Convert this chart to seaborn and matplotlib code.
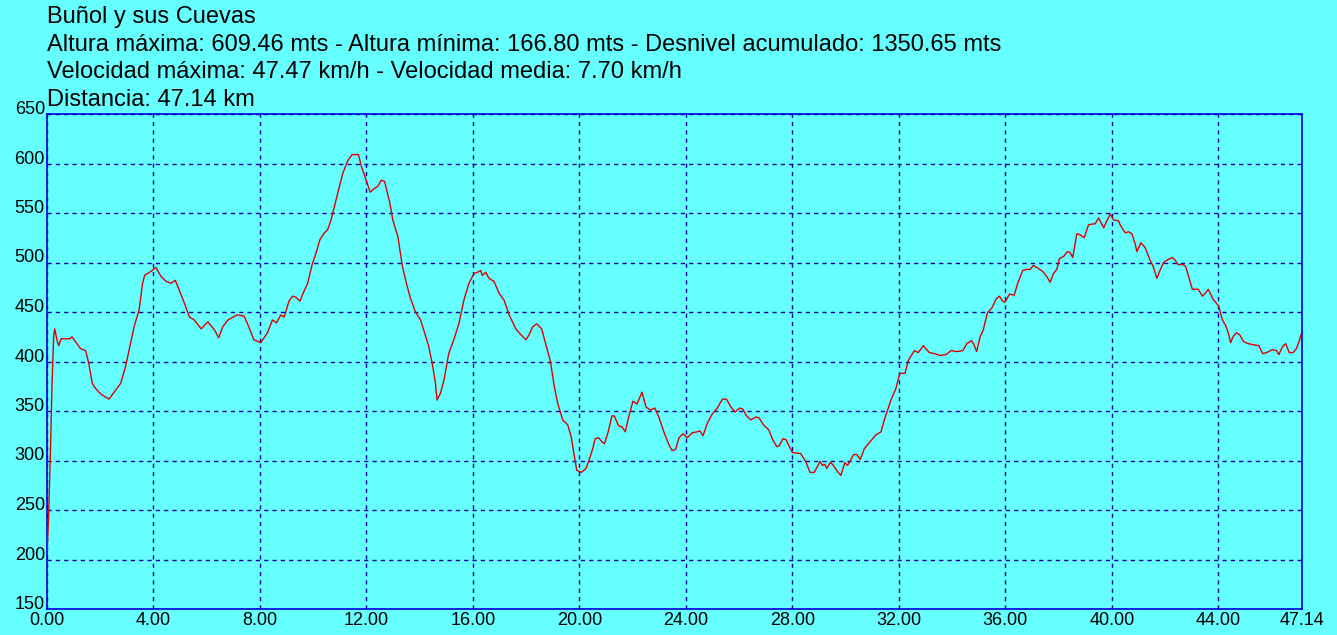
import matplotlib
matplotlib.use('Agg')
import matplotlib.pyplot as plt
import seaborn as sns

# elevation profile (distance in km, altitude in m)
km = [0.00, 0.06, 0.13, 0.19, 0.25, 0.29, 0.38, 0.44, 0.53, 0.69, 0.86, 0.94, 1.07, 1.26, 1.45,
      1.57, 1.70, 1.82, 1.95, 2.08, 2.33, 2.52, 2.77, 2.96, 3.08, 3.27, 3.46, 3.59, 3.67, 3.90,
      4.09, 4.28, 4.47, 4.65, 4.82, 4.97, 5.16, 5.35, 5.53, 5.79, 6.04, 6.29, 6.45, 6.60, 6.80,
      7.14, 7.40, 7.58, 7.77, 8.03, 8.28, 8.47, 8.62, 8.78, 8.91, 9.09, 9.22, 9.35, 9.50, 9.62,
      9.79, 9.97, 10.10, 10.25, 10.42, 10.54, 10.67, 10.79, 10.92, 11.11, 11.30, 11.46, 11.70,
      11.80, 11.99, 12.14, 12.26, 12.43, 12.55, 12.68, 12.87, 12.99, 13.18, 13.35, 13.50, 13.65,
      13.84, 14.03, 14.15, 14.34, 14.47, 14.59, 14.65, 14.78, 14.91, 15.09, 15.28, 15.47, 15.66,
      15.85, 16.04, 16.16, 16.29, 16.35, 16.48, 16.60, 16.79, 16.98, 17.17, 17.36, 17.61, 17.80,
      17.99, 18.11, 18.24, 18.40, 18.58, 18.74, 18.91, 19.06, 19.18, 19.37, 19.56, 19.69, 19.81,
      19.90, 20.07, 20.25, 20.38, 20.50, 20.59, 20.72, 20.84, 20.94, 21.07, 21.22, 21.31, 21.47,
      21.60, 21.72, 21.85, 22.01, 22.16, 22.35, 22.50, 22.67, 22.83, 22.98, 23.17, 23.36, 23.48,
      23.61, 23.74, 23.89, 24.05, 24.24, 24.43, 24.52, 24.64, 24.81, 24.99, 25.18, 25.37, 25.52,
      25.69, 25.84, 26.03, 26.13, 26.28, 26.44, 26.63, 26.75, 26.91, 27.11, 27.26, 27.41, 27.51,
      27.64, 27.76, 28.00, 28.31, 28.50, 28.66, 28.82, 29.04, 29.13, 29.22, 29.29, 29.42, 29.51,
      29.69, 29.82, 29.97, 30.07, 30.30, 30.42, 30.55, 30.70, 30.89, 31.14, 31.33, 31.45, 31.55,
      31.70, 31.89, 32.03, 32.23, 32.35, 32.58, 32.73, 32.92, 33.14, 33.33, 33.55, 33.77, 33.96,
      34.19, 34.40, 34.55, 34.73, 34.82, 34.92, 35.05, 35.17, 35.32, 35.49, 35.65, 35.77, 35.90,
      35.99, 36.15, 36.33, 36.45, 36.65, 36.80, 36.93, 37.05, 37.24, 37.40, 37.55, 37.68, 37.81,
      37.93, 38.03, 38.18, 38.33, 38.43, 38.53, 38.68, 38.81, 38.96, 39.12, 39.29, 39.37, 39.50,
      39.69, 39.81, 39.94, 40.06, 40.25, 40.31, 40.50, 40.63, 40.75, 40.88, 40.94, 41.09, 41.25,
      41.42, 41.55, 41.69, 41.79, 41.94, 42.11, 42.26, 42.36, 42.48, 42.67, 42.77, 42.90, 43.02,
      43.24, 43.40, 43.51, 43.62, 43.80, 44.01, 44.15, 44.28, 44.39, 44.46, 44.55, 44.68, 44.80,
      44.95, 45.12, 45.30, 45.52, 45.66, 45.81, 46.03, 46.18, 46.27, 46.41, 46.53, 46.66, 46.81,
      46.93, 47.03, 47.10]
elev = [205, 243, 310, 378, 425, 433, 421, 416, 423, 423, 423, 425, 420, 413, 411,
        398, 378, 373, 369, 366, 362, 369, 378, 396, 411, 435, 452, 479, 487, 491,
        495, 486, 481, 479, 482, 472, 459, 445, 442, 433, 440, 432, 424, 435, 442,
        447, 446, 435, 422, 419, 429, 442, 439, 447, 445, 461, 466, 465, 461, 469,
        479, 499, 509, 523, 530, 533, 543, 556, 570, 590, 603, 609, 609,
        598, 583, 571, 574, 577, 583, 582, 561, 543, 526, 496, 479, 464,
        450, 442, 432, 415, 398, 378, 361, 368, 381, 408, 422, 438, 462,
        479, 489, 490, 492, 487, 490, 484, 481, 469, 462, 447, 433, 427,
        422, 427, 435, 438, 433, 417, 400, 374, 358, 341, 336, 324, 304,
        290, 288, 292, 302, 312, 322, 323, 319, 317, 328, 345, 345, 335,
        334, 329, 344, 360, 357, 369, 354, 351, 353, 344, 329, 316, 310,
        311, 323, 327, 323, 328, 329, 330, 325, 338, 347, 353, 362, 362,
        354, 349, 353, 352, 345, 341, 344, 343, 336, 331, 321, 314, 315,
        322, 321, 308, 307, 299, 288, 288, 299, 295, 296, 292, 298, 296,
        289, 285, 298, 295, 306, 306, 301, 312, 318, 326, 329, 341, 349,
        361, 373, 388, 388, 401, 411, 409, 416, 409, 408, 406, 407, 411,
        410, 411, 418, 421, 417, 410, 425, 432, 449, 454, 463, 466, 461,
        460, 468, 467, 478, 492, 493, 493, 497, 494, 491, 486, 480, 489,
        493, 504, 506, 511, 510, 505, 529, 528, 525, 538, 539, 539, 545,
        535, 542, 549, 543, 542, 538, 530, 531, 529, 518, 511, 520, 515,
        503, 496, 484, 491, 500, 503, 505, 503, 498, 498, 496, 484, 473,
        473, 466, 469, 473, 463, 456, 442, 436, 427, 419, 425, 429, 427,
        420, 418, 417, 416, 408, 409, 412, 411, 407, 415, 418, 409, 409,
        413, 420, 427]

x_ticks = [0, 4, 8, 12, 16, 20, 24, 28, 32, 36, 40, 44, 47.14]
y_ticks = [150, 200, 250, 300, 350, 400, 450, 500, 550, 600, 650]

header = [
    "Buñol y sus Cuevas",
    "Altura máxima: 609.46 mts - Altura mínima: 166.80 mts - Desnivel acumulado: 1350.65 mts",
    "Velocidad máxima: 47.47 km/h - Velocidad media: 7.70 km/h",
    "Distancia: 47.14 km",
]

BG = '#66FFFF'
sns.set_style('white', {'axes.facecolor': BG, 'figure.facecolor': BG})
plt.rcParams['font.family'] = ['Liberation Sans', 'DejaVu Sans']

W, H = 1337, 635
fig = plt.figure(figsize=(W / 100, H / 100), dpi=100)
ax = fig.add_axes([47 / W, 1 - 609 / H, 1255 / W, 495 / H])

sns.lineplot(x=km, y=elev, ax=ax, color='#DD0000', linewidth=1,
             estimator=None, sort=False, zorder=3)

ax.set_xlim(0, 47.14)
ax.set_ylim(150, 650)
ax.set_xticks(x_ticks)
ax.set_xticklabels([f'{v:.2f}' for v in x_ticks], fontsize=13)
ax.set_yticks(y_ticks)
ax.set_yticklabels([str(v) for v in y_ticks], fontsize=13)
for lbl in ax.get_yticklabels():
    lbl.set_verticalalignment('baseline')
ax.tick_params(axis='x', length=0, pad=2, colors='black')
ax.tick_params(axis='y', length=0, pad=1.5, colors='black')
ax.set_xlabel('')
ax.set_ylabel('')

ax.grid(True, color='#0000A0', linestyle=(0, (3, 3)), linewidth=1)
ax.set_axisbelow(True)
for sp in ax.spines.values():
    sp.set_color('#0000DD')
    sp.set_linewidth(1.2)

for i, line in enumerate(header):
    fig.text(47 / W, 1 - (23 + 27.7 * i) / H, line, fontsize=17,
             va='baseline', ha='left', color='black')

fig.savefig('out.png', dpi=100, facecolor=BG)
